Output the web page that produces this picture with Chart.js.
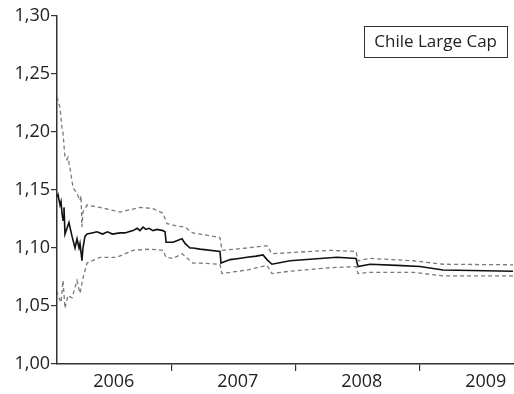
<!DOCTYPE html>
<html>
<head>
<meta charset="utf-8">
<script src="https://cdn.jsdelivr.net/npm/chart.js@4/dist/chart.umd.min.js"></script>
<style>
  html, body { margin: 0; padding: 0; background: #fff; }
  #wrap { width: 514px; height: 394px; position: relative; }
</style>
</head>
<body>
<div id="wrap"><canvas id="c" width="514" height="394"></canvas></div>
<script>
// Estimate for Chile Large Cap, with upper and lower bands (dashed)
const seriesName = 'Chile Large Cap';

// time in decimal years
const estTime = [2006.073, 2006.081, 2006.097, 2006.105, 2006.113, 2006.121, 2006.129, 2006.137, 2006.153, 2006.169,
  2006.177, 2006.194, 2006.218, 2006.234, 2006.250, 2006.258, 2006.274, 2006.282, 2006.298, 2006.315,
  2006.355, 2006.395, 2006.440, 2006.480, 2006.520, 2006.581, 2006.620, 2006.685, 2006.720, 2006.742,
  2006.766, 2006.790, 2006.815, 2006.847, 2006.880, 2006.927, 2006.944,
  2006.952, 2007.008, 2007.081, 2007.105, 2007.145, 2007.169, 2007.226, 2007.387, 2007.395, 2007.468,
  2007.540, 2007.605, 2007.680, 2007.734, 2007.766, 2007.806, 2007.952, 2008.194, 2008.331, 2008.484, 2008.500, 2008.597,
  2008.815, 2009.000, 2009.185, 2009.750];
const estValue = [1.144, 1.146, 1.137, 1.140, 1.130, 1.124, 1.135, 1.112, 1.117, 1.122,
  1.118, 1.110, 1.100, 1.108, 1.100, 1.104, 1.089, 1.100, 1.110, 1.112,
  1.113, 1.114, 1.112, 1.114, 1.112, 1.113, 1.113, 1.115, 1.117, 1.115,
  1.118, 1.116, 1.117, 1.115, 1.116, 1.115, 1.114,
  1.105, 1.105, 1.108, 1.104, 1.100, 1.100, 1.099, 1.097, 1.087, 1.090,
  1.091, 1.092, 1.093, 1.094, 1.090, 1.086, 1.089, 1.091, 1.092, 1.091, 1.084, 1.086,
  1.085, 1.084, 1.081, 1.080];

const upperTime = [2006.073, 2006.097, 2006.113, 2006.121, 2006.137, 2006.153, 2006.161, 2006.177, 2006.202, 2006.234,
  2006.258, 2006.266, 2006.274, 2006.282, 2006.315, 2006.419, 2006.581, 2006.742, 2006.847, 2006.927,
  2006.960, 2007.040, 2007.105, 2007.169, 2007.226, 2007.387, 2007.403, 2007.605, 2007.766, 2007.806,
  2007.952, 2008.274, 2008.484, 2008.500, 2008.597, 2008.944, 2009.185, 2009.750];
const upperValue = [1.230, 1.221, 1.203, 1.199, 1.178, 1.176, 1.178, 1.169, 1.152, 1.147,
  1.141, 1.145, 1.118, 1.131, 1.137, 1.135, 1.131, 1.135, 1.134, 1.130,
  1.121, 1.119, 1.118, 1.113, 1.112, 1.109, 1.098, 1.100, 1.102, 1.095,
  1.096, 1.098, 1.097, 1.089, 1.091, 1.089, 1.086, 1.0855];

const lowerTime = [2006.073, 2006.081, 2006.105, 2006.121, 2006.137, 2006.161, 2006.194, 2006.218, 2006.234, 2006.258,
  2006.282, 2006.315, 2006.419, 2006.556, 2006.685, 2006.823, 2006.927, 2006.952, 2007.008, 2007.081,
  2007.169, 2007.226, 2007.387, 2007.403, 2007.605, 2007.766, 2007.806, 2007.952, 2008.274, 2008.484,
  2008.500, 2008.597, 2008.944, 2009.185, 2009.750];
const lowerValue = [1.063, 1.059, 1.053, 1.072, 1.048, 1.059, 1.057, 1.066, 1.072, 1.061,
  1.074, 1.087, 1.092, 1.092, 1.098, 1.099, 1.098, 1.092, 1.091, 1.095,
  1.087, 1.087, 1.086, 1.078, 1.081, 1.085, 1.078, 1.080, 1.083, 1.084,
  1.078, 1.079, 1.079, 1.076, 1.076];

// axis labels
const yearLabels = [2006, 2007, 2008, 2009];
const yearBoundaries = [2007, 2008, 2009];
const yTicks = [1.00, 1.05, 1.10, 1.15, 1.20, 1.25, 1.30];

const pairs = (xs, ys) => xs.map((x, i) => ({ x: x, y: ys[i] }));

const FONT = '"Open Sans", "DejaVu Sans", sans-serif';
const AXIS = '#333333';
const TEXT = '#222222';

// labels sit at the middle of each year, tick marks at year boundaries
const labelOffset = 0.53;
const xTickValues = [];
yearLabels.forEach(y => {
  xTickValues.push(y + labelOffset);
  if (yearBoundaries.includes(y + 1)) xTickValues.push(y + 1);
});
const isBoundary = v => Math.abs(v - Math.round(v)) < 1e-6;

// framed series name in the upper right corner
const nameBox = {
  id: 'nameBox',
  afterDraw(chart) {
    const ctx = chart.ctx;
    const ca = chart.chartArea;
    ctx.save();
    ctx.font = '17px ' + FONT;
    const w = ctx.measureText(seriesName).width;
    const padX = 10, h = 31;
    const right = ca.right - 7;
    const left = right - w - 2 * padX;
    const top = ca.top + 10;
    ctx.fillStyle = '#fff';
    ctx.fillRect(left, top, right - left, h);
    ctx.strokeStyle = AXIS;
    ctx.lineWidth = 1;
    ctx.strokeRect(Math.round(left) + 0.5, top + 0.5, Math.round(right - left), h);
    ctx.fillStyle = TEXT;
    ctx.textBaseline = 'middle';
    ctx.textAlign = 'left';
    ctx.fillText(seriesName, left + padX, top + h / 2 + 1);
    ctx.restore();
  }
};

const dashed = {
  borderColor: '#7a7a7a',
  borderWidth: 1.3,
  borderDash: [4, 3],
  pointRadius: 0,
  tension: 0,
  fill: false
};

new Chart(document.getElementById('c'), {
  type: 'line',
  data: {
    datasets: [
      Object.assign({ label: 'upper', data: pairs(upperTime, upperValue) }, dashed),
      Object.assign({ label: 'lower', data: pairs(lowerTime, lowerValue) }, dashed),
      {
        label: seriesName,
        data: pairs(estTime, estValue),
        borderColor: '#111111',
        borderWidth: 1.6,
        pointRadius: 0,
        tension: 0,
        fill: false
      }
    ]
  },
  options: {
    responsive: false,
    animation: false,
    layout: { padding: { top: 16, right: 0, left: 0, bottom: 0 } },
    plugins: { legend: { display: false }, tooltip: { enabled: false } },
    scales: {
      x: {
        type: 'linear',
        min: 2006.0726,
        max: 2009.758,
        afterBuildTicks(scale) { scale.ticks = xTickValues.map(v => ({ value: v })); },
        afterFit(scale) { scale.height = 30; },
        border: { display: true, color: AXIS, width: 1.5 },
        grid: {
          drawOnChartArea: false,
          drawTicks: true,
          tickLength: 7,
          lineWidth: 1.2,
          color: ctx => (ctx.tick && isBoundary(ctx.tick.value)) ? AXIS : 'rgba(0,0,0,0)'
        },
        ticks: {
          autoSkip: false,
          maxRotation: 0,
          padding: 0,
          color: TEXT,
          font: { family: FONT, size: 18 },
          callback: v => isBoundary(v) ? '' : String(Math.floor(v))
        }
      },
      y: {
        min: 1.0,
        max: 1.3,
        afterBuildTicks(scale) { scale.ticks = yTicks.map(v => ({ value: v })); },
        afterFit(scale) { scale.width = 57; },
        border: { display: true, color: AXIS, width: 1.5 },
        grid: { drawOnChartArea: false, drawTicks: true, tickLength: 6, color: AXIS, lineWidth: 1.2 },
        ticks: {
          padding: 1,
          color: TEXT,
          font: { family: FONT, size: 18 },
          callback: v => v.toFixed(2).replace('.', ',')
        }
      }
    }
  },
  plugins: [nameBox]
});
</script>
</body>
</html>
